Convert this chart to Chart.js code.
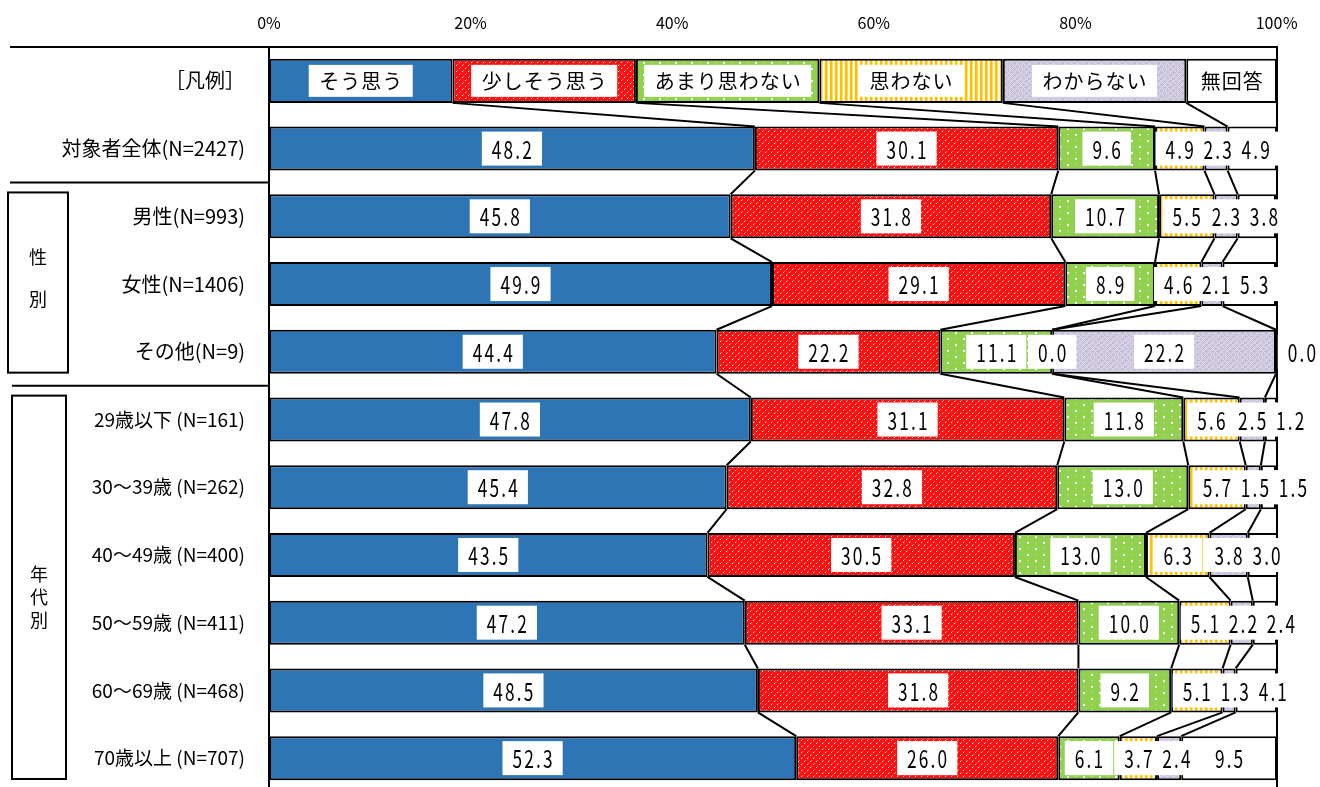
<!DOCTYPE html>
<html lang="ja">
<head>
<meta charset="utf-8">
<title>意識調査 回答分布</title>
<script src="https://cdn.jsdelivr.net/npm/chart.js@4.4.1/dist/chart.umd.min.js"></script>
<style>
  html, body { margin: 0; padding: 0; background: #fff; overflow: hidden; }
  #wrap { position: relative; width: 1320px; height: 792px; }
</style>
</head>
<body>
<div id="wrap"><canvas id="chart" width="1320" height="792"></canvas></div>
<script>
// ---- data ----
const categories = [
  '［凡例］',
  '対象者全体(N=2427)',
  '男性(N=993)',
  '女性(N=1406)',
  'その他(N=9)',
  '29歳以下 (N=161)',
  '30～39歳 (N=262)',
  '40～49歳 (N=400)',
  '50～59歳 (N=411)',
  '60～69歳 (N=468)',
  '70歳以上 (N=707)'
];
const seriesNames = ['そう思う', '少しそう思う', 'あまり思わない', '思わない', 'わからない', '無回答'];

// widths of the sample bar in the 凡例 row
const legendWidths = [18.2, 18.2, 18.2, 18.2, 18.2, 9.0];

// percentages per answer, rows in category order (excluding 凡例)
const soOmou    = [48.2, 45.8, 49.9, 44.4, 47.8, 45.4, 43.5, 47.2, 48.5, 52.3];
const sukoshi   = [30.1, 31.8, 29.1, 22.2, 31.1, 32.8, 30.5, 33.1, 31.8, 26.0];
const amari     = [9.6, 10.7, 8.9, 11.1, 11.8, 13.0, 13.0, 10.0, 9.2, 6.1];
const omowanai  = [4.9, 5.5, 4.6, 0.0, 5.6, 5.7, 6.3, 5.1, 5.1, 3.7];
const wakaranai = [2.3, 2.3, 2.1, 22.2, 2.5, 1.5, 3.8, 2.2, 1.3, 2.4];
const mukaitou  = [4.9, 3.8, 5.3, 0.0, 1.2, 1.5, 3.0, 2.4, 4.1, 9.5];

const xTickLabels = ['0%', '20%', '40%', '60%', '80%', '100％'];

// row groups drawn as boxed captions on the left
const groupNames = ['性別', '年代別'];
const groupFirstRow = [2, 5];
const groupLastRow = [4, 10];

// ---- styling ----
const FONT = "'Noto Sans CJK JP', 'Noto Sans', sans-serif";

function makePattern(w, h, paint) {
  const c = document.createElement('canvas');
  c.width = w; c.height = h;
  const g = c.getContext('2d');
  paint(g, w, h);
  return g.createPattern(c, 'repeat');
}
function px(g, x, y, col, s) { g.fillStyle = col; g.fillRect(x, y, s || 1, s || 1); }

const fillBlue = '#2E75B6';
// red with sparse light specks along rising diagonals
const fillRed = makePattern(6, 6, (g, w, h) => {
  g.fillStyle = '#FF1010'; g.fillRect(0, 0, w, h);
  px(g, 0, 5, '#FFFFFF'); px(g, 3, 2, '#FFFFFF');
  px(g, 1, 4, '#FF7070'); px(g, 4, 1, '#FF7070');
});
const fillGreen = makePattern(16, 12, (g, w, h) => {
  g.fillStyle = '#92D050'; g.fillRect(0, 0, w, h);
  px(g, 3, 2, '#FFFFFF', 2);
  px(g, 11, 8, '#FFFFFF', 2);
  px(g, 3, 8, '#C9E8A8', 1);
  px(g, 11, 2, '#C9E8A8', 1);
});
const fillYellow = makePattern(5, 4, (g, w, h) => {
  const cols = ['#FFC000', '#FFC000', '#FFD966', '#FFFFFF', '#FFF4D0'];
  cols.forEach((c, i) => { g.fillStyle = c; g.fillRect(i, 0, 1, h); });
});
const fillLavender = makePattern(12, 12, (g, w, h) => {
  g.fillStyle = '#C9C3DC'; g.fillRect(0, 0, w, h);
  for (let y = 0; y < h; y++) for (let x = 0; x < w; x++) {
    if ((x + y) % 6 === 0 || (x - y + 12) % 6 === 0) px(g, x, y, '#E1DDEB');
    else if ((x * 7 + y * 3) % 11 === 0) px(g, x, y, '#B6AECB');
  }
});
const fills = [fillBlue, fillRed, fillGreen, fillYellow, fillLavender, '#FFFFFF'];

const seriesValues = [soOmou, sukoshi, amari, omowanai, wakaranai, mukaitou];

const datasets = seriesValues.map((vals, i) => ({
  label: seriesNames[i],
  data: [legendWidths[i], ...vals],
  backgroundColor: fills[i],
  borderColor: '#000',
  borderWidth: 2,
  borderSkipped: false,
  categoryPercentage: 1,
  barPercentage: 0.65
}));

// connector lines between neighbouring bars, frame, and boxed labels on top
const segmentLabels = {
  id: 'segmentLabels',
  afterDatasetsDraw(chart) {
    const ctx = chart.ctx;
    const area = chart.chartArea;
    const metas = chart.data.datasets.map((d, i) => chart.getDatasetMeta(i));
    const nRows = chart.data.labels.length;
    const nSeries = metas.length;

    ctx.save();
    ctx.strokeStyle = '#000';
    ctx.lineWidth = 2;
    for (let r = 0; r < nRows - 1; r++) {
      for (let s = 0; s < nSeries - 1; s++) {
        const a = metas[s].data[r], b = metas[s].data[r + 1];
        ctx.beginPath();
        ctx.moveTo(a.x, a.y + a.height / 2);
        ctx.lineTo(b.x, b.y - b.height / 2);
        ctx.stroke();
      }
    }
    // right frame
    ctx.beginPath(); ctx.moveTo(area.right, area.top); ctx.lineTo(area.right, area.bottom); ctx.stroke();

    // legend row: answer names in white boxes
    ctx.font = `20px ${FONT}`;
    ctx.letterSpacing = '1px';
    ctx.textAlign = 'center';
    ctx.textBaseline = 'middle';
    for (let s = 0; s < nSeries; s++) {
      const el = metas[s].data[0];
      const cx = (el.x + el.base) / 2;
      const text = seriesNames[s];
      const tw = ctx.measureText(text).width;
      const bw = Math.min(tw + 20, Math.abs(el.x - el.base) - 6);
      ctx.fillStyle = '#fff';
      ctx.fillRect(cx - bw / 2, el.y - 16, bw, 32);
      ctx.fillStyle = '#000';
      ctx.fillText(text, cx + 0.5, el.y + 1);
    }

    // value rows
    const SX = 0.72;
    const MIN_GAP = 38;
    ctx.font = `24px ${FONT}`;
    ctx.letterSpacing = '3px';
    for (let r = 1; r < nRows; r++) {
      const items = [];
      let prev = -Infinity;
      for (let s = 0; s < nSeries; s++) {
        const v = chart.data.datasets[s].data[r];
        const el = metas[s].data[r];
        const text = v.toFixed(1);
        const tw = ctx.measureText(text).width * SX;
        const bw = tw + 18;
        let cx = (el.x + el.base) / 2;
        if (v === 0 && s === nSeries - 1 && el.x > area.right - 3) {
          // empty last segment: label sits just outside the bar end
          cx = area.right + 25;
        } else {
          cx = Math.max(cx, prev + MIN_GAP);
        }
        prev = cx;
        items.push({ text, cx, cy: el.y, bw });
      }
      ctx.fillStyle = '#fff';
      items.forEach(it => ctx.fillRect(it.cx - it.bw / 2, it.cy - 17, it.bw, 34));
      ctx.fillStyle = '#000';
      items.forEach(it => {
        ctx.save();
        ctx.translate(it.cx + 1, it.cy + 1);
        ctx.scale(SX, 1);
        ctx.fillText(it.text, 0, 0);
        ctx.restore();
      });
    }
    ctx.restore();
  },
  afterDraw(chart) {
    const ctx = chart.ctx;
    const area = chart.chartArea;
    const y = chart.scales.y;
    const mid = (a, b) => (y.getPixelForValue(a) + y.getPixelForValue(b)) / 2;
    ctx.save();
    ctx.strokeStyle = '#000';
    ctx.lineWidth = 2;
    // header rule and group separators on the label side
    const rules = [
      [10, area.top],
      [10, mid(1, 2)],
      [12, mid(4, 5)]
    ];
    rules.forEach(([x0, yy]) => {
      ctx.beginPath(); ctx.moveTo(x0, yy); ctx.lineTo(area.left, yy); ctx.stroke();
    });

    // group caption boxes
    const boxX = [[8, 68], [12, 66]];
    const charGap = [42, 23];
    const textShift = [-4, 10];
    ctx.font = `18px ${FONT}`;
    ctx.fillStyle = '#000';
    ctx.textAlign = 'center';
    ctx.textBaseline = 'middle';
    groupNames.forEach((name, g) => {
      const first = groupFirstRow[g], last = groupLastRow[g];
      const top = mid(first - 1, first) + 10;
      const bottom = (last + 1 < chart.data.labels.length ? mid(last, last + 1) : area.bottom) - 13;
      const [x0, x1] = boxX[g];
      ctx.strokeRect(x0, top, x1 - x0, bottom - top);
      const chars = Array.from(name);
      const cy = (top + bottom) / 2 + textShift[g];
      const cx = (x0 + x1) / 2;
      chars.forEach((ch, k) => {
        ctx.fillText(ch, cx, cy + (k - (chars.length - 1) / 2) * charGap[g]);
      });
    });
    ctx.restore();
  }
};

Chart.defaults.color = '#000';
Chart.defaults.font.family = FONT;

new Chart(document.getElementById('chart'), {
  type: 'bar',
  data: { labels: categories, datasets },
  options: {
    indexAxis: 'y',
    responsive: false,
    animation: false,
    devicePixelRatio: 1,
    layout: { padding: { left: 0, right: 43, top: 0, bottom: 0 } },
    plugins: { legend: { display: false }, tooltip: { enabled: false } },
    scales: {
      x: {
        position: 'top',
        stacked: true,
        min: 0,
        max: 100,
        grid: { display: false, drawTicks: false },
        border: { display: true, color: '#000', width: 2 },
        ticks: {
          stepSize: 20,
          padding: 14,
          color: '#000',
          font: { family: FONT, size: 16 },
          callback: (v, i) => xTickLabels[i]
        },
        afterFit: s => { s.height = 47; }
      },
      y: {
        stacked: true,
        grid: { display: false, drawTicks: false },
        border: { display: true, color: '#000', width: 2 },
        ticks: {
          padding: 24,
          autoSkip: false,
          color: '#000',
          font: c => ({ family: FONT, size: c.index >= 5 ? 19 : 20 })
        },
        afterFit: s => { s.width = 269; s.paddingTop = 0; s.paddingBottom = 0; }
      }
    }
  },
  plugins: [segmentLabels]
});
</script>
</body>
</html>
